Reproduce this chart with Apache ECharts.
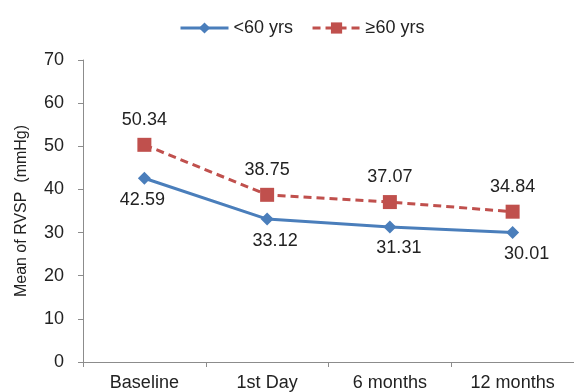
<!DOCTYPE html>
<html><head><meta charset="utf-8">
<script src="https://cdn.jsdelivr.net/npm/echarts@6/dist/echarts.min.js"></script>
<style>html,body{margin:0;padding:0;background:#fff}#c{width:574px;height:392px}</style>
</head><body><div id="c"></div>
<script>
const categories = ['Baseline', '1st Day', '6 months', '12 months'];
const under60 = [42.59, 33.12, 31.31, 30.01];
const over60 = [50.34, 38.75, 37.07, 34.84];
const seriesNames = ['<60 yrs', '≥60 yrs'];
const yTicks = [0, 10, 20, 30, 40, 50, 60, 70];

const font = 'Liberation Sans, Arial, sans-serif';
const chart = echarts.init(document.getElementById('c'));
chart.setOption({
  animation: false,
  textStyle: { fontFamily: font },
  legend: {
    top: 14, left: 174, itemGap: 18, itemWidth: 48, itemHeight: 14,
    textStyle: { fontSize: 18, color: '#222', fontFamily: font },
    lineStyle: { width: 3 },
    data: seriesNames
  },
  grid: { left: 83, top: 60, right: -1, bottom: 29, containLabel: false },
  xAxis: {
    type: 'category', data: categories, boundaryGap: true,
    axisLine: { lineStyle: { color: '#8c8c8c', width: 1 } },
    axisTick: { show: true, length: 5, lineStyle: { color: '#8c8c8c' } },
    axisLabel: { fontSize: 18, color: '#222', margin: 12, fontFamily: font }
  },
  yAxis: {
    type: 'value', min: yTicks[0], max: yTicks[yTicks.length - 1], interval: 10,
    name: 'Mean of RVSP  (mmHg)', nameLocation: 'middle', nameGap: 53,
    nameTextStyle: { fontSize: 16, color: '#222', fontFamily: font },
    axisLine: { show: true, lineStyle: { color: '#8c8c8c', width: 1 } },
    axisTick: { show: true, length: 5, lineStyle: { color: '#8c8c8c' } },
    splitLine: { show: false },
    axisLabel: { fontSize: 18, color: '#222', margin: 19, fontFamily: font }
  },
  series: [
    {
      name: seriesNames[0], type: 'line', data: under60,
      symbol: 'diamond', symbolSize: 13,
      lineStyle: { color: '#4a7ebb', width: 3 },
      itemStyle: { color: '#4a7ebb' },
      label: { show: true, position: 'bottom', distance: 6, fontSize: 18, color: '#222', fontFamily: font,
        formatter: p => p.value.toFixed(2) },
      labelLayout: function (p) {
        const dx = [-2, 8, 9, 14][p.dataIndex];
        return { dx: dx };
      },
      z: 2
    },
    {
      name: seriesNames[1], type: 'line', data: over60,
      symbol: 'rect', symbolSize: 14,
      lineStyle: { color: '#c0504d', width: 3, type: [8, 5] },
      itemStyle: { color: '#c0504d' },
      label: { show: true, position: 'top', distance: 9, fontSize: 18, color: '#222', fontFamily: font,
        formatter: p => p.value.toFixed(2) },
      z: 3
    }
  ]
});
</script></body></html>
